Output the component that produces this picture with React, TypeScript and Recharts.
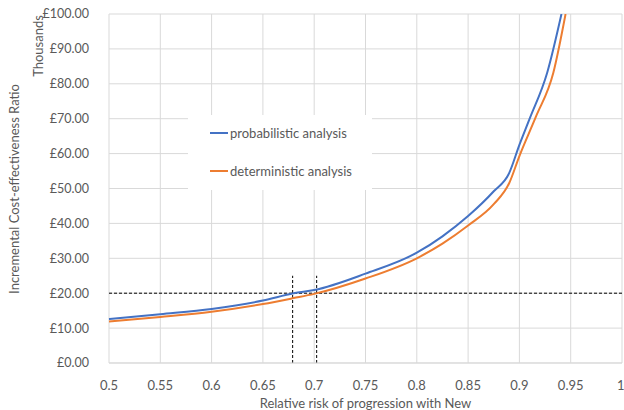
import React from 'react';
import { LineChart, Line, XAxis, YAxis, CartesianGrid, ReferenceLine } from 'recharts';

const xTicks = [0.5, 0.55, 0.6, 0.65, 0.7, 0.75, 0.8, 0.85, 0.9, 0.95, 1];
const yTicks = [0, 10, 20, 30, 40, 50, 60, 70, 80, 90, 100];

const probX = [0.5, 0.55, 0.6, 0.65, 0.68, 0.7, 0.75, 0.8, 0.825, 0.85, 0.875, 0.89, 0.9, 0.91, 0.927, 0.941];
const probY = [12.6, 14.0, 15.5, 17.9, 20.0, 20.9, 25.6, 31.6, 36.3, 42.1, 49.2, 54.4, 62.5, 70.0, 83.1, 100];

const detX = [0.5, 0.55, 0.6, 0.65, 0.68, 0.7, 0.75, 0.8, 0.825, 0.85, 0.875, 0.89, 0.9, 0.916, 0.933, 0.945];
const detY = [11.9, 13.2, 14.7, 16.9, 18.6, 19.8, 24.2, 30.0, 34.2, 39.4, 45.5, 51.5, 59.3, 70.5, 83.1, 100];

const threshold = 20;
const crossings = [0.679, 0.7024];
const crossingTop = 25;

const probData = probX.map((x, i) => ({ x, y: probY[i] }));
const detData = detX.map((x, i) => ({ x, y: detY[i] }));

const font = 'Lato, "Open Sans", sans-serif';
const grey = '#595959';

const legendItems = [
  { name: 'probabilistic analysis', color: '#4472C4', top: 10 },
  { name: 'deterministic analysis', color: '#ED7D31', top: 48 },
];

export default function App() {
  return (
    <div style={{ position: 'absolute', left: 0, top: 0, width: 624, height: 410, background: '#fff' }}>
      <LineChart width={624} height={410} margin={{ top: 14, right: 2, left: 0, bottom: 0 }}>
        <CartesianGrid stroke="#d9d9d9" />
        <XAxis
          type="number"
          dataKey="x"
          domain={[0.5, 1]}
          ticks={xTicks}
          allowDuplicatedCategory={false}
          height={47}
          tickLine={false}
          axisLine={{ stroke: '#d9d9d9' }}
          tick={{ fill: grey, fontSize: 13, fontFamily: font }}
          tickMargin={12}
          label={{ value: 'Relative risk of progression with New', position: 'insideBottom', offset: 2, fill: grey, fontSize: 13, fontFamily: font }}
        />
        <YAxis
          type="number"
          domain={[0, 100]}
          ticks={yTicks}
          allowDataOverflow
          width={109}
          tickLine={false}
          axisLine={false}
          tickMargin={14}
          tickFormatter={(v: number) => `£${v.toFixed(2)}`}
          tick={{ fill: grey, fontSize: 12.5, fontFamily: font }}
        />
        <ReferenceLine y={threshold} stroke="#000" strokeDasharray="3 2" />
        {crossings.map((c) => (
          <ReferenceLine
            key={c}
            segment={[{ x: c, y: 0 }, { x: c, y: crossingTop }]}
            stroke="#000"
            strokeDasharray="3 2"
          />
        ))}
        <Line data={probData} dataKey="y" name="probabilistic analysis" type="monotone" stroke="#4472C4" strokeWidth={2} dot={false} isAnimationActive={false} />
        <Line data={detData} dataKey="y" name="deterministic analysis" type="monotone" stroke="#ED7D31" strokeWidth={2} dot={false} isAnimationActive={false} />
        <text x={38} y={46} transform="rotate(-90 38 46)" textAnchor="middle" dominantBaseline="central" fill={grey} fontSize={13} fontFamily={font}>
          Thousands
        </text>
        <text x={14} y={189} transform="rotate(-90 14 189)" textAnchor="middle" dominantBaseline="central" fill={grey} fontSize={13} fontFamily={font}>
          Incremental Cost-effectiveness Ratio
        </text>
      </LineChart>
      <div style={{ position: 'absolute', left: 188, top: 115, width: 184, height: 75, background: '#fff', fontFamily: font, fontSize: 13, color: grey }}>
        {legendItems.map((e) => (
          <div key={e.name} style={{ position: 'absolute', left: 22, top: e.top, display: 'flex', alignItems: 'center', whiteSpace: 'nowrap' }}>
            <span style={{ display: 'inline-block', width: 18, height: 2, background: e.color, marginRight: 2 }} />
            <span>{e.name}</span>
          </div>
        ))}
      </div>
    </div>
  );
}
